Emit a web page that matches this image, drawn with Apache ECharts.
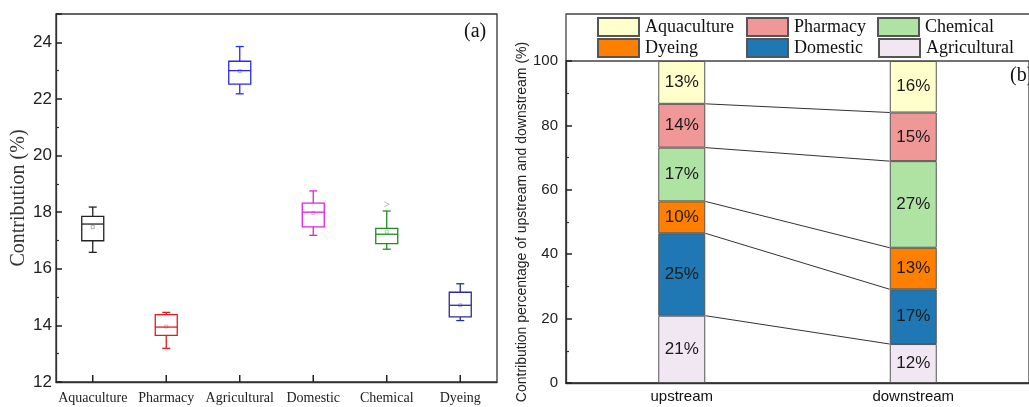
<!DOCTYPE html>
<html>
<head>
<meta charset="utf-8">
<script src="https://cdn.jsdelivr.net/npm/echarts@6/dist/echarts.min.js"></script>
<style>html,body{margin:0;padding:0;background:#fff}#c{width:1029px;height:407px}</style>
</head>
<body>
<div id="c"></div>
<script>
// ---- Panel (a): box plot data ----
const boxCategories = ['Aquaculture', 'Pharmacy', 'Agricultural', 'Domestic', 'Chemical', 'Dyeing'];
const boxMin    = [16.58, 13.19, 22.18, 17.18, 16.69, 14.17];
const boxQ1     = [16.99, 13.65, 22.52, 17.48, 16.89, 14.30];
const boxMedian = [17.58, 13.94, 23.00, 18.00, 17.22, 14.71];
const boxQ3     = [17.85, 14.38, 23.33, 18.32, 17.43, 15.17];
const boxMax    = [18.18, 14.46, 23.85, 18.75, 18.04, 15.47];
const boxMean   = [17.47, 13.96, 22.98, 17.97, 17.31, 14.71];
const boxOutliers = [[4, 18.28]];
const boxColors = ['#222222', '#e8191d', '#2a2ae0', '#e020e0', '#228b22', '#2b2b9a'];
const Y_MIN_A = 12;

// ---- Panel (b): stacked bars ----
const streamCategories = ['upstream', 'downstream'];
const sourceNames = ['Agricultural', 'Domestic', 'Dyeing', 'Chemical', 'Pharmacy', 'Aquaculture']; // bottom -> top
const upstreamValues   = [20.9, 25.6, 9.9, 16.7, 13.6, 13.3];
const downstreamValues = [12.1, 17.0, 12.9, 26.9, 15.1, 16.0];
const upstreamLabels   = ['21%', '25%', '10%', '17%', '14%', '13%'];
const downstreamLabels = ['12%', '17%', '13%', '27%', '15%', '16%'];
const sourceColors = ['#f1e7f3', '#1f77b4', '#ff8000', '#afe3a4', '#f09898', '#ffffcc'];
const legendOrder = ['Aquaculture', 'Pharmacy', 'Chemical', 'Dyeing', 'Domestic', 'Agricultural'];

const BAR_W = 47;

const boxData = boxCategories.map((c, i) => [i, boxMin[i], boxQ1[i], boxMedian[i], boxQ3[i], boxMax[i], boxMean[i]]);

function renderBox(params, api) {
  const i = api.value(0);
  const col = boxColors[i];
  const x = api.coord([i, api.value(3)])[0];
  const yMin = api.coord([i, api.value(1)])[1];
  const yQ1 = api.coord([i, api.value(2)])[1];
  const yMed = api.coord([i, api.value(3)])[1];
  const yQ3 = api.coord([i, api.value(4)])[1];
  const yMax = api.coord([i, api.value(5)])[1];
  const yMean = api.coord([i, api.value(6)])[1];
  const yAxisBottom = api.coord([i, Y_MIN_A])[1];
  const hw = 11, cw = 4;
  const st = {stroke: col, lineWidth: 1.3, fill: null};
  return {
    type: 'group',
    children: [
      {type: 'rect', shape: {x: x - hw, y: yQ3, width: 2 * hw, height: yQ1 - yQ3}, style: st},
      {type: 'line', shape: {x1: x - hw, y1: yMed, x2: x + hw, y2: yMed}, style: st},
      {type: 'line', shape: {x1: x, y1: yQ3, x2: x, y2: yMax}, style: st},
      {type: 'line', shape: {x1: x - cw, y1: yMax, x2: x + cw, y2: yMax}, style: st},
      {type: 'line', shape: {x1: x, y1: yQ1, x2: x, y2: yMin}, style: st},
      {type: 'line', shape: {x1: x - cw, y1: yMin, x2: x + cw, y2: yMin}, style: st},
      {type: 'rect', shape: {x: x - 1.5, y: yMean - 1.5, width: 3, height: 3}, style: {stroke: col, lineWidth: 0.6, fill: null, opacity: 0.6}},
      // category tick (inside, upward from the x axis)
      {type: 'line', shape: {x1: x, y1: yAxisBottom, x2: x, y2: yAxisBottom - 7}, style: {stroke: '#222', lineWidth: 1.5}}
    ]
  };
}

// connectors between stacked bars
function cum(arr) { let s = 0; return arr.map(v => (s += v)); }
const upCum = cum(upstreamValues), downCum = cum(downstreamValues);
const connectorData = [];
for (let k = 0; k < sourceNames.length - 1; k++) connectorData.push([upCum[k], downCum[k]]);

function renderConnector(params, api) {
  const p1 = api.coord([0, api.value(0)]);
  const p2 = api.coord([1, api.value(1)]);
  return {
    type: 'line',
    shape: {x1: p1[0] + BAR_W / 2, y1: p1[1], x2: p2[0] - BAR_W / 2, y2: p2[1]},
    style: {stroke: '#333', lineWidth: 1}
  };
}

const barSeries = sourceNames.map((name, k) => ({
  name: name,
  type: 'bar',
  stack: 'total',
  xAxisIndex: 1,
  yAxisIndex: 1,
  barWidth: BAR_W,
  itemStyle: {color: sourceColors[k], borderColor: '#555', borderWidth: 1},
  label: {
    show: true,
    position: 'inside',
    fontFamily: 'Arial, Liberation Sans, sans-serif',
    fontSize: 17,
    color: '#1a1a1a',
    formatter: p => (p.dataIndex === 0 ? upstreamLabels[k] : downstreamLabels[k])
  },
  data: [upstreamValues[k], downstreamValues[k]]
}));

const legendPos = {
  'Aquaculture': [597, 17], 'Pharmacy': [746, 17], 'Chemical': [877, 17],
  'Dyeing': [597, 38], 'Domestic': [746, 38], 'Agricultural': [878, 38]
};
const legends = legendOrder.map(n => ({
  data: [n],
  left: legendPos[n][0],
  top: legendPos[n][1],
  itemWidth: 41,
  itemHeight: 18,
  itemGap: 0,
  padding: 0,
  icon: 'rect',
  selectedMode: false,
  textStyle: {fontFamily: 'Liberation Serif, Times New Roman, serif', fontSize: 18, color: '#111', padding: [0, 0, 0, 1]}
}));

const serif = 'Liberation Serif, Times New Roman, serif';
const sans = 'Arial, Liberation Sans, sans-serif';

const chart = echarts.init(document.getElementById('c'), null, {renderer: 'canvas'});
chart.setOption({
  animation: false,
  backgroundColor: '#fff',
  legend: legends,
  grid: [
    {left: 56, top: 14, width: 441, height: 368, show: true, borderColor: '#333', borderWidth: 1.3, backgroundColor: 'transparent'},
    {left: 566, top: 61, width: 475, height: 322, show: true, borderColor: '#444', borderWidth: 1.3, backgroundColor: 'transparent'}
  ],
  xAxis: [
    {
      type: 'category', gridIndex: 0, data: boxCategories,
      axisLine: {lineStyle: {color: '#333', width: 1.3}},
      axisTick: {show: false},
      axisLabel: {fontFamily: serif, fontSize: 14, color: '#222', margin: 9, interval: 0}
    },
    {
      type: 'category', gridIndex: 1, data: streamCategories,
      axisLine: {lineStyle: {color: '#333', width: 1.3}},
      axisTick: {alignWithLabel: true, length: 4, interval: 0, lineStyle: {color: '#222', width: 1.3}},
      axisLabel: {fontFamily: sans, fontSize: 15, color: '#111', margin: 6, interval: 0}
    }
  ],
  yAxis: [
    {
      type: 'value', gridIndex: 0, min: Y_MIN_A, max: 25, interval: 2,
      name: 'Contribution (%)', nameLocation: 'middle', nameGap: 27,
      nameTextStyle: {fontFamily: serif, fontSize: 20, color: '#333'},
      axisLine: {show: true, lineStyle: {color: '#333', width: 1.3}},
      axisTick: {show: true, inside: true, length: 6, lineStyle: {color: '#222', width: 1.5}},
      minorTick: {show: true, splitNumber: 2, length: 3, lineStyle: {color: '#333', width: 1.2}},
      splitLine: {show: false},
      axisLabel: {fontFamily: sans, fontSize: 17, color: '#222', margin: 4,
        formatter: v => (v > 24.5 ? '' : v)}
    },
    {
      type: 'value', gridIndex: 1, min: 0, max: 100, interval: 20,
      name: 'Contribution percentage of upstream and downstream (%)', nameLocation: 'middle', nameGap: 37,
      nameTextStyle: {fontFamily: sans, fontSize: 14, color: '#222'},
      axisLine: {show: true, lineStyle: {color: '#333', width: 1.3}},
      axisTick: {show: true, inside: true, length: 6, lineStyle: {color: '#222', width: 1.5}},
      minorTick: {show: true, splitNumber: 2, length: 3, lineStyle: {color: '#333', width: 1.2}},
      splitLine: {show: false},
      axisLabel: {fontFamily: sans, fontSize: 15, color: '#222', margin: 8}
    }
  ],
  series: [
    {
      type: 'custom', xAxisIndex: 0, yAxisIndex: 0,
      renderItem: renderBox,
      encode: {x: 0, y: [1, 2, 3, 4, 5]},
      data: boxData,
      clip: false
    },
    {
      type: 'scatter', xAxisIndex: 0, yAxisIndex: 0,
      symbol: 'path://M0,0 L10,5 L0,10', symbolSize: 5,
      itemStyle: {color: 'none', borderColor: '#aaa', borderWidth: 1},
      data: boxOutliers
    },
    {
      type: 'custom', xAxisIndex: 1, yAxisIndex: 1,
      renderItem: renderConnector,
      encode: {y: [0, 1]},
      data: connectorData,
      z: 1
    }
  ].concat(barSeries),
  graphic: [
    {type: 'rect', shape: {x: 566, y: 14, width: 480, height: 369}, style: {stroke: '#444', lineWidth: 1.3, fill: null}, silent: true},
    {type: 'text', left: 464, top: 22, style: {text: '(a)', font: '20px "Liberation Serif", serif', fill: '#111'}},
    {type: 'text', left: 1010, top: 66, style: {text: '(b)', font: '20px "Liberation Serif", serif', fill: '#111'}}
  ]
});
</script>
</body>
</html>
